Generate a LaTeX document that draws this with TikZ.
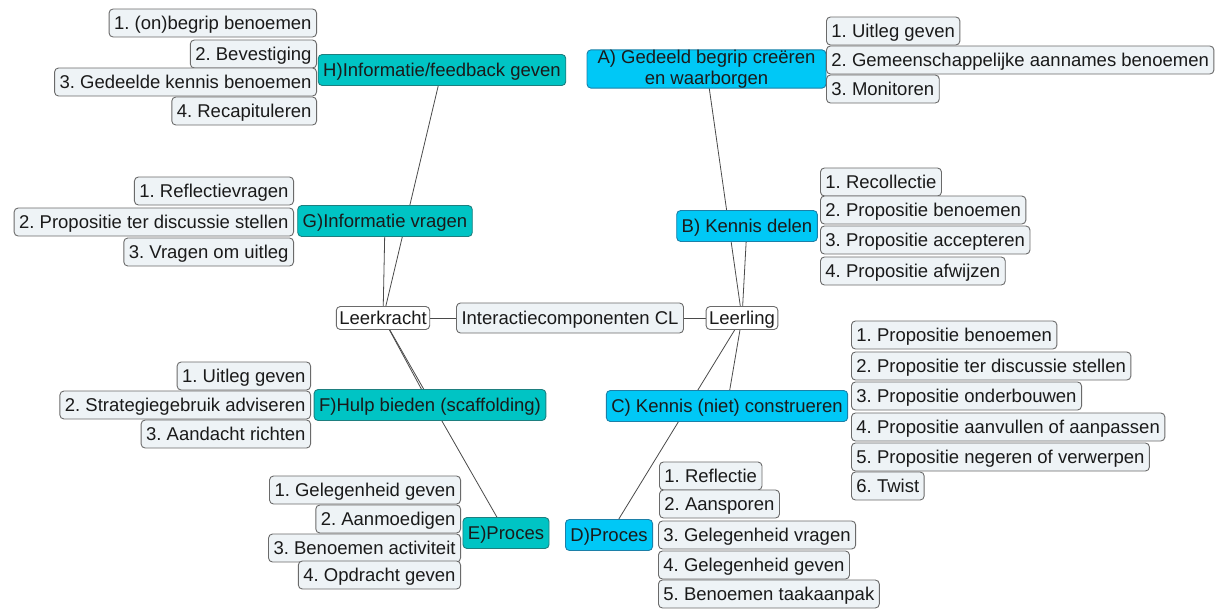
\documentclass[tikz,border=0pt]{standalone}
\usepackage{fontspec}
\setmainfont{Liberation Sans}
\frenchspacing
\usetikzlibrary{positioning, backgrounds}
\definecolor{tealfill}{HTML}{00C4C4}
\definecolor{tealedge}{HTML}{1E7F7F}
\definecolor{skyfill}{HTML}{00C8F6}
\definecolor{skyedge}{HTML}{1C80A8}
\definecolor{itemfill}{HTML}{EEF3F6}
\definecolor{itemedge}{HTML}{6A6A6A}
\definecolor{linkgray}{HTML}{4A4A4A}
\definecolor{inktext}{HTML}{1A1A1A}

\begin{document}
\begin{tikzpicture}[
    x=1pt, y=-1pt,
    font=\fontsize{18.5}{21}\selectfont,
    every node/.style={text=inktext},
    base box/.style={rounded corners=4pt, line width=0.9pt, inner xsep=5pt,
        inner ysep=0pt, minimum height=#1, text depth=3.5pt,
        text height=16.5pt},
    base box/.default=28pt,
    item/.style={base box, draw=itemedge, fill=itemfill},
    teal topic/.style={base box=31pt, draw=tealedge, fill=tealfill},
    sky topic/.style={base box=31pt, draw=skyedge, fill=skyfill},
    actor/.style={base box=23pt, draw=itemedge, fill=white, inner xsep=3pt},
    hub/.style={base box=30pt, draw=itemedge, fill=itemfill},
    link/.style={draw=linkgray, line width=0.8pt},
]
\useasboundingbox (0,0) rectangle (1217,608);

% ══════════════════════════════════════════════════════════════════════
%  CENTRE — hub with its two actors
% ══════════════════════════════════════════════════════════════════════
\node[hub]   (hub) at (570,318) {Interactiecomponenten CL};
\node[actor] (lkr) at (383,318) {Leerkracht};
\node[actor] (llg) at (742,318) {Leerling};

% ══════════════════════════════════════════════════════════════════════
%  LEERKRACHT — topics E to H
% ══════════════════════════════════════════════════════════════════════
% ── H) Informatie/feedback geven ──────────────────────────────────────
\node[teal topic] (hinfo) at (442,70) {H)Informatie/feedback geven};
\node[item, anchor=east] (h1) at (317,23)  {1. (on)begrip benoemen};
\node[item, anchor=east] (h2) at (317,54)  {2. Bevestiging};
\node[item, anchor=east] (h3) at (317,82)  {3. Gedeelde kennis benoemen};
\node[item, anchor=east] (h4) at (317,111) {4. Recapituleren};

% ── G) Informatie vragen ──────────────────────────────────────────────
\node[teal topic] (gvrag) at (385,221) {G)Informatie vragen};
\node[item, anchor=east] (g1) at (294,191) {1. Reflectievragen};
\node[item, anchor=east] (g2) at (294,222) {2. Propositie ter discussie stellen};
\node[item, anchor=east] (g3) at (294,252) {3. Vragen om uitleg};

% ── F) Hulp bieden ────────────────────────────────────────────────────
\node[teal topic] (fhulp) at (430,405) {F)Hulp bieden (scaffolding)};
\node[item, anchor=east] (f1) at (311,376) {1. Uitleg geven};
\node[item, anchor=east] (f2) at (311,405) {2. Strategiegebruik adviseren};
\node[item, anchor=east] (f3) at (311,434) {3. Aandacht richten};

% ── E) Proces ─────────────────────────────────────────────────────────
\node[teal topic] (eproc) at (506,533) {E)Proces};
\node[item, anchor=east] (e1) at (461,490) {1. Gelegenheid geven};
\node[item, anchor=east] (e2) at (461,519) {2. Aanmoedigen};
\node[item, anchor=east] (e3) at (461,548) {3. Benoemen activiteit};
\node[item, anchor=east] (e4) at (461,575) {4. Opdracht geven};

% ══════════════════════════════════════════════════════════════════════
%  LEERLING — topics A to D
% ══════════════════════════════════════════════════════════════════════
% ── A) Gedeeld begrip ─────────────────────────────────────────────────
\node[sky topic=52pt, minimum width=239pt, align=center, text height=,
    text depth=] (abegr) at (706.5,69) {A) Gedeeld begrip creëren\\en waarborgen};
\node[item, anchor=west] (a1) at (826,31) {1. Uitleg geven};
\node[item, anchor=west] (a2) at (826,60) {2. Gemeenschappelijke aannames benoemen};
\node[item, anchor=west] (a3) at (826,89) {3. Monitoren};

% ── B) Kennis delen ───────────────────────────────────────────────────
\node[sky topic] (bdel) at (747,226) {B) Kennis delen};
\node[item, anchor=west] (b1) at (820,182) {1. Recollectie};
\node[item, anchor=west] (b2) at (820,210) {2. Propositie benoemen};
\node[item, anchor=west] (b3) at (820,240) {3. Propositie accepteren};
\node[item, anchor=west] (b4) at (820,271) {4. Propositie afwijzen};

% ── C) Kennis (niet) construeren ──────────────────────────────────────
\node[sky topic] (ccons) at (727,406) {C) Kennis (niet) construeren};
\node[item, anchor=west] (c1) at (851,335) {1. Propositie benoemen};
\node[item, anchor=west] (c2) at (851,366) {2. Propositie ter discussie stellen};
\node[item, anchor=west] (c3) at (851,396) {3. Propositie onderbouwen};
\node[item, anchor=west] (c4) at (851,427) {4. Propositie aanvullen of aanpassen};
\node[item, anchor=west] (c5) at (851,457) {5. Propositie negeren of verwerpen};
\node[item, anchor=west] (c6) at (851,486) {6. Twist};

% ── D) Proces ─────────────────────────────────────────────────────────
\node[sky topic] (dproc) at (609,535) {D)Proces};
\node[item, anchor=west] (d1) at (659,476) {1. Reflectie};
\node[item, anchor=west] (d2) at (659,504) {2. Aansporen};
\node[item, anchor=west] (d3) at (658,535) {3. Gelegenheid vragen};
\node[item, anchor=west] (d4) at (658,565) {4. Gelegenheid geven};
\node[item, anchor=west] (d5) at (658,594) {5. Benoemen taakaanpak};

% ══════════════════════════════════════════════════════════════════════
%  LINKS — behind the boxes
% ══════════════════════════════════════════════════════════════════════
\begin{scope}[on background layer]
  \draw[link] (lkr) -- (hub) -- (llg);
  \foreach \t in {hinfo, gvrag, fhulp, eproc}
    \draw[link] (lkr.center) -- (\t.center);
  \foreach \t in {abegr, bdel, ccons, dproc}
    \draw[link] (llg.center) -- (\t.center);
\end{scope}

\end{tikzpicture}
\end{document}
